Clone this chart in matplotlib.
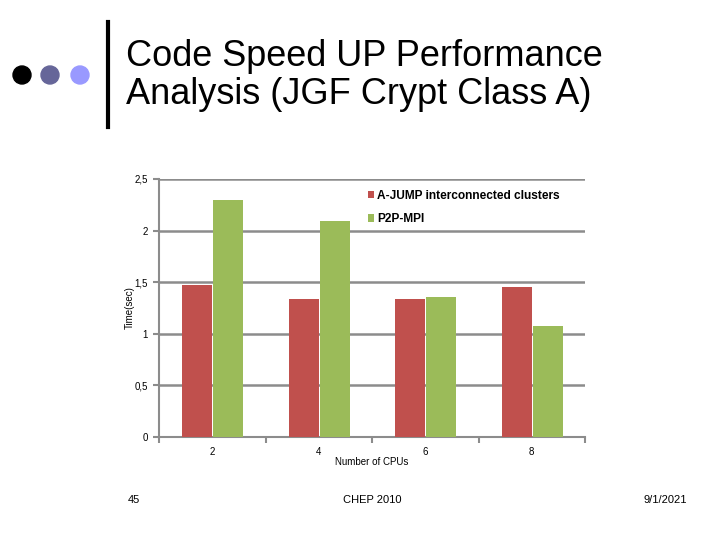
#!/usr/bin/env python3
import numpy as np
import matplotlib
matplotlib.use('Agg')
import matplotlib.pyplot as plt
from matplotlib.patches import Ellipse
from matplotlib.lines import Line2D

plt.rcParams['font.family'] = ['Liberation Sans', 'DejaVu Sans']

cpus = ['2', '4', '6', '8']
ajump = [1.47, 1.34, 1.34, 1.45]
p2p = [2.30, 2.09, 1.36, 1.08]
yticks = [0, 0.5, 1, 1.5, 2, 2.5]
ytick_labels = ['0', '0,5', '1', '1,5', '2', '2,5']

RED = '#C0504D'
GREEN = '#9BBB59'
GRID = '#8C8C8C'

fig = plt.figure(figsize=(7.2, 5.4), dpi=100)

# slide decoration
for x, c in [(22, '#000000'), (50, '#666699'), (80, '#9999FF')]:
    fig.patches.append(Ellipse((x / 720, 1 - 75 / 540), 18 / 720, 18 / 540, color=c,
                               transform=fig.transFigure, figure=fig))
fig.lines.append(Line2D([108 / 720, 108 / 720], [1 - 22 / 540, 1 - 127 / 540],
                        color='black', lw=3, transform=fig.transFigure))
fig.text(126 / 720, 1 - 56 / 540, 'Code Speed UP Performance', fontsize=26,
         va='center', ha='left')
fig.text(126 / 720, 1 - 95 / 540, 'Analysis (JGF Crypt Class A)', fontsize=26,
         va='center', ha='left')

ax = fig.add_axes([159 / 720, 103 / 540, 426 / 720, 258 / 540])
x = np.arange(len(cpus))
w = 0.28
ax.bar(x - w / 2, ajump, w, color=RED, label='A-JUMP interconnected clusters', zorder=3)
ax.bar(x + w / 2 + 0.01, p2p, w, color=GREEN, label='P2P-MPI', zorder=3)

ax.set_xlim(-0.5, len(cpus) - 0.5)
ax.set_ylim(0, 2.5)
ax.set_yticks(yticks)
ax.set_yticklabels(ytick_labels, fontsize=7)
ax.set_xticks(x)
ax.set_xticklabels(cpus, fontsize=7)
ax.set_xticks(np.arange(-0.5, len(cpus)), minor=True)
ax.tick_params(axis='x', which='major', length=0, pad=7)
ax.tick_params(axis='x', which='minor', length=4, color=GRID, width=1.5, direction='out')
ax.tick_params(axis='y', length=4, color=GRID, width=1.5, direction='out', pad=4)
ax.grid(axis='y', color=GRID, lw=1.8, zorder=0)
for s in ['top', 'right']:
    ax.spines[s].set_visible(False)
for s in ['left', 'bottom']:
    ax.spines[s].set_color(GRID)
    ax.spines[s].set_linewidth(1.5)
ax.set_ylabel('Time(sec)', fontsize=7, labelpad=0)
ax.set_xlabel('Number of CPUs', fontsize=7, labelpad=0)

leg = ax.legend(loc='upper left', bbox_to_anchor=(0.47, 0.99), frameon=False,
                fontsize=8.6, handlelength=0.55, handleheight=0.55, handletextpad=0.25,
                labelspacing=0.95, borderaxespad=0.3)
for t in leg.get_texts():
    t.set_fontweight('bold')

# footer
fig.text(134 / 720, 1 - 500 / 540, '45', fontsize=8, ha='center', va='center')
fig.text(372 / 720, 1 - 500 / 540, 'CHEP 2010', fontsize=8, ha='center', va='center')
fig.text(665 / 720, 1 - 500 / 540, '9/1/2021', fontsize=8, ha='center', va='center')

fig.savefig('out.png', dpi=100)
